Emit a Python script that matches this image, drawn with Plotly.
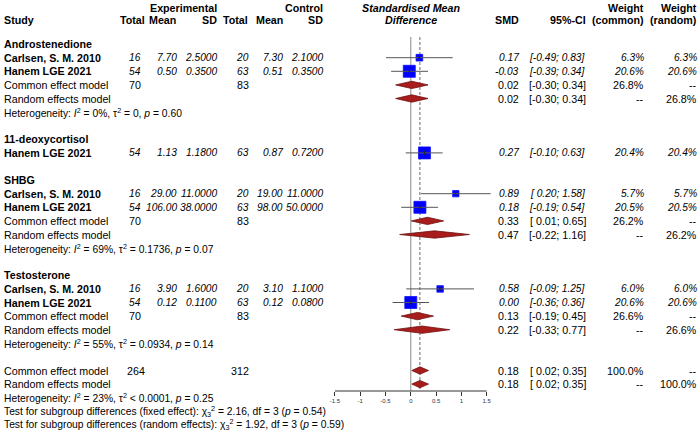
import plotly.graph_objects as go

# ---------------- data ----------------
groups = ["Androstenedione", "11-deoxycortisol", "SHBG", "Testosterone"]

study_label = ["Carlsen, S. M. 2010", "Hanem LGE 2021", "Hanem LGE 2021",
               "Carlsen, S. M. 2010", "Hanem LGE 2021",
               "Carlsen, S. M. 2010", "Hanem LGE 2021"]
study_group = [0, 0, 1, 2, 2, 3, 3]
n_e = [16, 54, 54, 16, 54, 16, 54]
mean_e = [7.70, 0.50, 1.13, 29.00, 106.00, 3.90, 0.12]
sd_e = [2.5, 0.35, 1.18, 11.0, 38.0, 1.6, 0.11]
n_c = [20, 63, 63, 20, 63, 20, 63]
mean_c = [7.30, 0.51, 0.87, 19.00, 98.00, 3.10, 0.12]
sd_c = [2.1, 0.35, 0.72, 11.0, 50.0, 1.1, 0.08]
smd = [0.17, -0.03, 0.27, 0.89, 0.18, 0.58, 0.00]
ci_lo = [-0.49, -0.39, -0.10, 0.20, -0.19, -0.09, -0.36]
ci_hi = [0.83, 0.34, 0.63, 1.58, 0.54, 1.25, 0.36]
w_common = [6.3, 20.6, 20.4, 5.7, 20.5, 6.0, 20.6]
w_random = [6.3, 20.6, 20.4, 5.7, 20.5, 6.0, 20.6]

# subgroup summaries (only groups with >1 study); index into groups
sub_group = [0, 2, 3]
sub_n_e = [70, 70, 70]
sub_n_c = [83, 83, 83]
sub_fe = [0.02, 0.33, 0.13]
sub_fe_lo = [-0.30, 0.01, -0.19]
sub_fe_hi = [0.34, 0.65, 0.45]
sub_fe_w = [26.8, 26.2, 26.6]
sub_re = [0.02, 0.47, 0.22]
sub_re_lo = [-0.30, -0.22, -0.33]
sub_re_hi = [0.34, 1.16, 0.77]
sub_re_w = [26.8, 26.2, 26.6]
sub_i2 = ["0%", "69%", "55%"]
sub_tau2 = ["= 0", "= 0.1736", "= 0.0934"]
sub_p = ["0.60", "0.07", "0.14"]

# overall
tot_n_e = 264
tot_n_c = 312
tot_fe, tot_fe_lo, tot_fe_hi = 0.18, 0.02, 0.35
tot_re, tot_re_lo, tot_re_hi = 0.18, 0.02, 0.35
tot_i2, tot_tau2, tot_p = "23%", "< 0.0001", "0.25"
test_fixed = ("2.16", "3", "0.54")
test_random = ("1.92", "3", "0.59")

axis_ticks = [-1.5, -1, -0.5, 0, 0.5, 1, 1.5]
axis_ticktext = ["-1.5", "-1", "-0.5", "0", "0.5", "1", "1.5"]

# ---------------- layout helpers ----------------
W, H = 699, 433
ROW0, ROWH = 30.5, 13.6
FONT = "Liberation Sans, Arial, sans-serif"
FS = 10.7
FS_NUM = 10.2
FS_HET = 10.3

ann = []


def prow(ypx):
    return (ypx - ROW0) / ROWH


def txt(xpx, row, s, anchor="right", bold=False, italic=False, size=FS):
    if italic:
        s = f"<i>{s}</i>"
    if bold:
        s = f"<b>{s}</b>"
    ann.append(dict(x=xpx / W, xref="paper", y=row, yref="y", text=s,
                    xanchor=anchor, yanchor="middle", showarrow=False,
                    borderpad=0,
                    font=dict(size=size, family=FONT, color="black")))


def num(xpx, row, s):
    txt(xpx, row, s, italic=True, size=FS_NUM)


def ci_str(lo, hi):
    return f"[{lo:5.2f}; {hi:.2f}]"


# column right edges (px)
X_STUDY = 3
X_TE, X_ME, X_SE = 142, 178, 218
X_TC, X_MC, X_SC = 250, 284, 324
X_SMD, X_CI, X_WC, X_WR = 520, 587, 645, 698
X_NULL = 410.8

# headers
h1, h2 = prow(7.5), prow(20)
txt(X_SE, h1, "Experimental", bold=True)
txt(X_SC, h1, "Control", bold=True)
txt(X_NULL, h1, "Standardised Mean", anchor="center", bold=True, italic=True)
txt(X_WC, h1, "Weight", bold=True)
txt(X_WR, h1, "Weight", bold=True)
txt(X_STUDY, h2, "Study", anchor="left", bold=True)
txt(146, h2, "Total", bold=True)
txt(177, h2, "Mean", bold=True)
txt(X_SE, h2, "SD", bold=True)
txt(249, h2, "Total", bold=True)
txt(X_MC, h2, "Mean", bold=True)
txt(X_SC, h2, "SD", bold=True)
txt(X_NULL, h2, "Difference", anchor="center", bold=True, italic=True)
txt(X_SMD, h2, "SMD", bold=True)
txt(X_CI, h2, "95%-CI", bold=True)
txt(X_WC, h2, "(common)", bold=True)
txt(X_WR, h2, "(random)", bold=True)

# assign rows
study_rows = [None] * len(study_label)
sub_rows = {}
row = 1
for g, gname in enumerate(groups):
    txt(X_STUDY, row, gname, anchor="left", bold=True)
    row += 1
    for i, sg in enumerate(study_group):
        if sg == g:
            study_rows[i] = row
            row += 1
    if g in sub_group:
        sub_rows[g] = (row, row + 1, row + 2)
        row += 3
    row += 1
tot_rows = (row, row + 1, row + 2, row + 3, row + 4)

# study rows text
for i in range(len(study_label)):
    r = study_rows[i]
    txt(X_STUDY, r, study_label[i], anchor="left", bold=True)
    num(X_TE, r, f"{n_e[i]}")
    num(X_ME, r, f"{mean_e[i]:.2f}")
    num(X_SE, r, f"{sd_e[i]:.4f}")
    num(X_TC, r, f"{n_c[i]}")
    num(X_MC, r, f"{mean_c[i]:.2f}")
    num(X_SC, r, f"{sd_c[i]:.4f}")
    num(X_SMD, r, f"{smd[i]:.2f}")
    num(X_CI, r, ci_str(ci_lo[i], ci_hi[i]))
    num(X_WC, r, f"{w_common[i]:.1f}%")
    num(X_WR, r, f"{w_random[i]:.1f}%")


def het_text(i2, tau2, p):
    return (f"Heterogeneity: <i>I</i><sup>2</sup> = {i2}, "
            f"τ<sup>2</sup> {tau2}, <i>p</i> = {p}")


dia_x, dia_y = [], []


def add_diamond(r, est, lo, hi):
    d = 0.27
    dia_x.extend([lo, est, hi, est, lo, None])
    dia_y.extend([r, r - d, r, r + d, r, None])


for k, g in enumerate(sub_group):
    rf, rr, rh = sub_rows[g]
    txt(X_STUDY, rf, "Common effect model", anchor="left")
    txt(X_STUDY, rr, "Random effects model", anchor="left")
    txt(X_TE, rf, f"{sub_n_e[k]}")
    txt(X_TC, rf, f"{sub_n_c[k]}")
    txt(X_SMD, rf, f"{sub_fe[k]:.2f}")
    txt(X_CI, rf, ci_str(sub_fe_lo[k], sub_fe_hi[k]))
    txt(X_WC, rf, f"{sub_fe_w[k]:.1f}%")
    txt(X_WR, rf, "--")
    txt(X_SMD, rr, f"{sub_re[k]:.2f}")
    txt(X_CI, rr, ci_str(sub_re_lo[k], sub_re_hi[k]))
    txt(X_WC, rr, "--")
    txt(X_WR, rr, f"{sub_re_w[k]:.1f}%")
    txt(X_STUDY, rh, het_text(sub_i2[k], sub_tau2[k], sub_p[k]),
        anchor="left", size=FS_HET)
    add_diamond(rf, sub_fe[k], sub_fe_lo[k], sub_fe_hi[k])
    add_diamond(rr, sub_re[k], sub_re_lo[k], sub_re_hi[k])

rf, rr, rh, rt1, rt2 = tot_rows
txt(X_STUDY, rf, "Common effect model", anchor="left")
txt(X_STUDY, rr, "Random effects model", anchor="left")
txt(X_TE + 4, rf, f"{tot_n_e}")
txt(X_TC, rf, f"{tot_n_c}")
txt(X_SMD, rf, f"{tot_fe:.2f}")
txt(X_CI, rf, ci_str(tot_fe_lo, tot_fe_hi))
txt(X_WC, rf, "100.0%")
txt(X_WR, rf, "--")
txt(X_SMD, rr, f"{tot_re:.2f}")
txt(X_CI, rr, ci_str(tot_re_lo, tot_re_hi))
txt(X_WC, rr, "--")
txt(X_WR, rr, "100.0%")
txt(X_STUDY, rh, het_text(tot_i2, tot_tau2, tot_p), anchor="left", size=FS_HET)
txt(X_STUDY, rt1,
    f"Test for subgroup differences (fixed effect): χ<sub>3</sub><sup>2</sup> = "
    f"{test_fixed[0]}, df = {test_fixed[1]} (<i>p</i> = {test_fixed[2]})",
    anchor="left", size=FS_HET)
txt(X_STUDY, rt2,
    f"Test for subgroup differences (random effects): χ<sub>3</sub><sup>2</sup> = "
    f"{test_random[0]}, df = {test_random[1]} (<i>p</i> = {test_random[2]})",
    anchor="left", size=FS_HET)
add_diamond(rf, tot_fe, tot_fe_lo, tot_fe_hi)
add_diamond(rr, tot_re, tot_re_lo, tot_re_hi)

# ---------------- traces ----------------
fig = go.Figure()

sq_size = [2.65 * (w ** 0.5) for w in w_common]
fig.add_trace(go.Scatter(
    x=smd, y=study_rows, mode="markers",
    marker=dict(symbol="square", size=sq_size, color="#0000FF", opacity=1,
                line=dict(width=0.8, color="#1010ff")),
    hoverinfo="skip", showlegend=False))

ci_x, ci_y = [], []
for i in range(len(smd)):
    ci_x.extend([ci_lo[i], ci_hi[i], None])
    ci_y.extend([study_rows[i], study_rows[i], None])
fig.add_trace(go.Scatter(x=ci_x, y=ci_y, mode="lines",
                         line=dict(color="#555555", width=1),
                         hoverinfo="skip", showlegend=False))
fig.add_trace(go.Scatter(
    x=smd, y=study_rows, mode="markers",
    marker=dict(symbol="line-ns", size=3, line=dict(width=1, color="#222222")),
    hoverinfo="skip", showlegend=False))

fig.add_trace(go.Scatter(x=dia_x, y=dia_y, mode="lines", fill="toself",
                         fillcolor="#A81C1C",
                         line=dict(color="#6E1010", width=0.8),
                         hoverinfo="skip", showlegend=False))

# reference lines
y_top, y_axis = prow(37), prow(391)
fig.add_shape(type="line", xref="x", yref="y", x0=0, x1=0, y0=y_top, y1=y_axis,
              line=dict(color="#8a8a8a", width=1), layer="below")
fig.add_shape(type="line", xref="x", yref="y", x0=tot_fe, x1=tot_fe,
              y0=y_top, y1=prow(389),
              line=dict(color="#6a6a6a", width=1, dash="3px,2px"), layer="below")
AX_POS = 1 - 391 / H
fig.add_shape(type="line", xref="x", yref="paper", x0=axis_ticks[0],
              x1=axis_ticks[-1], y0=AX_POS, y1=AX_POS,
              line=dict(color="#333333", width=1))

# x axis mapping: px = 410.8 + 50.57 * x
XR = (-2.0, 2.0)
d0 = (X_NULL + 50.57 * XR[0]) / W
d1 = (X_NULL + 50.57 * XR[1]) / W

fig.update_layout(
    width=W, height=H,
    margin=dict(l=0, r=0, t=0, b=0),
    paper_bgcolor="white", plot_bgcolor="white",
    showlegend=False,
    annotations=ann,
    xaxis=dict(domain=[d0, d1], range=list(XR), anchor="free", position=AX_POS,
               showgrid=False, zeroline=False, showline=False,
               tickmode="array", tickvals=axis_ticks, ticktext=axis_ticktext,
               ticks="outside", ticklen=4, tickwidth=1, tickcolor="#333333",
               tickfont=dict(size=6, family=FONT, color="#333333"),
               fixedrange=True),
    yaxis=dict(domain=[0, 1], range=[(H - ROW0) / ROWH, -ROW0 / ROWH],
               visible=False, fixedrange=True),
)

fig.write_html("out.html",
               config={"displayModeBar": False},
               post_script="document.body.style.margin='0px';"
                           "document.body.style.overflow='hidden';")
